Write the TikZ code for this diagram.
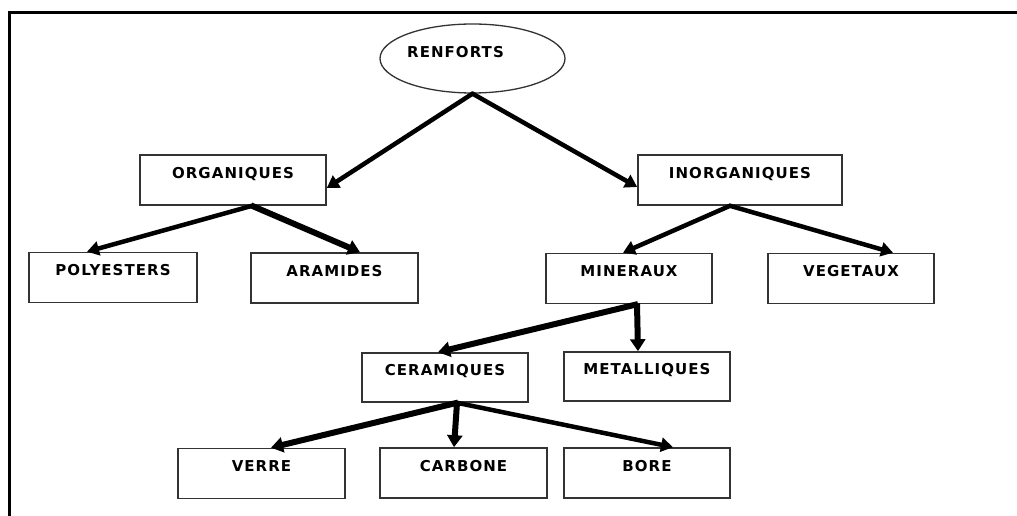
\documentclass[tikz,border=0pt]{standalone}
\usepackage{fontspec}
\usetikzlibrary{arrows.meta,shapes.geometric}
\newfontfamily\labfont{DejaVu Sans Bold}[LetterSpace=7]
\tikzset{
  lbl/.style={font={\labfont\fontsize{15}{18}\selectfont}, text=black},
  box/.style={draw=black!80, line width=1.6pt, rectangle, inner sep=0pt,
    minimum width=167pt, minimum height=50pt, text height=10pt, text depth=14pt, lbl},
  conn/.style={line width=4.5pt, black, -{Triangle[length=12pt,width=14pt]}, shorten <=-1pt},
  heavy/.style={conn, line width=6pt, -{Triangle[length=12pt,width=15pt]}},
  frame/.style={line width=3pt, black}
}
\begin{document}
\begin{tikzpicture}[x=1pt,y=-1pt]
\useasboundingbox (0,0) rectangle (1017,516);
\draw[frame] (9,516) -- (9,13) -- (1017,13);

\node[draw=black!80, line width=1.3pt, ellipse, minimum width=185pt, minimum height=69pt, inner sep=0pt,
  label={[lbl, xshift=-17pt, yshift=6pt]center:RENFORTS}] (ren) at (472.5,58.5) {};

\node[box, minimum width=186pt] (org) at (233,180) {ORGANIQUES};
\node[box, minimum width=204pt] (inorg) at (740,180) {INORGANIQUES};
\node[box, minimum width=168pt] (poly) at (113,277.5) {POLYESTERS};
\node[box] (aram) at (334.5,278) {ARAMIDES};
\node[box, minimum width=166pt] (mine) at (629,278.5) {MINERAUX};
\node[box, minimum width=166pt] (veg) at (851,278.5) {VEGETAUX};
\node[box, minimum width=166pt, minimum height=49pt] (cer) at (445,377.5) {CERAMIQUES};
\node[box, minimum width=166pt, minimum height=49pt] (met) at (647,376.5) {METALLIQUES};
\node[box] (verre) at (261.5,473.5) {VERRE};
\node[box] (carb) at (463.5,473) {CARBONE};
\node[box, minimum width=166pt] (bore) at (647,473) {BORE};

\draw[conn] (ren.south) -- ([yshift=-8pt]org.east);
\draw[conn] (ren.south) -- ([yshift=-7pt]inorg.west);

\draw[conn] ([xshift=19pt]org.south) -- ([xshift=-26pt]poly.north);
\draw[heavy] ([xshift=19pt]org.south) -- ([xshift=25.5pt]aram.north);

\draw[conn] ([xshift=-10pt]inorg.south) -- ([xshift=-6pt]mine.north);
\draw[conn] ([xshift=-10pt]inorg.south) -- ([xshift=42pt]veg.north);

\draw[heavy] ([xshift=8pt]mine.south) -- ([xshift=-7pt]cer.north);
\draw[heavy] ([xshift=8pt]mine.south) -- ([xshift=-9pt]met.north);

\draw[heavy] ([xshift=12pt]cer.south) -- ([xshift=9.5pt]verre.north);
\draw[heavy] ([xshift=12pt]cer.south) -- ([xshift=-9.5pt]carb.north);
\draw[conn] ([xshift=12pt]cer.south) -- ([xshift=26pt]bore.north);
\end{tikzpicture}
\end{document}
